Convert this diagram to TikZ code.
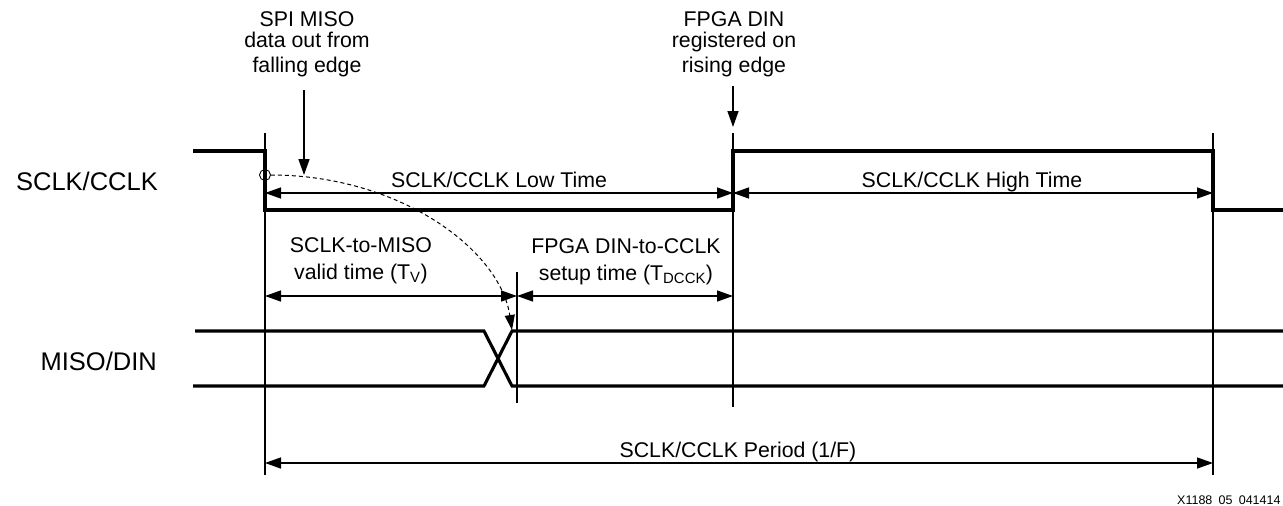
\documentclass[tikz,border=0pt]{standalone}
\usepackage{fontspec}
\setmainfont{Liberation Sans}
\usetikzlibrary{arrows.meta}
\begin{document}
\begin{tikzpicture}[x=1pt,y=-1pt,
  sig/.style={line width=3.1pt, line join=miter},
  guide/.style={line width=1.3pt},
  tipA/.tip={Triangle[length=16pt,width=11pt]},
  dimline/.style={line width=1.4pt, tipA-tipA},
  ptr/.style={line width=1.4pt, -tipA},
  lbl/.style={font=\fontsize{21.3}{25}\selectfont, inner sep=0pt, anchor=base},
  siglbl/.style={font=\fontsize{25.5}{30}\selectfont, inner sep=0pt, anchor=base east},
  small/.style={font=\fontsize{12.5}{15}\selectfont, inner sep=0pt, anchor=base west}]
\useasboundingbox (0,0) rectangle (1283,506);

% guide lines
\coordinate (fallTop) at (265,133); \coordinate (fallBot) at (265,475);
\coordinate (riseTop) at (733,133); \coordinate (riseBot) at (733,407);
\coordinate (endTop) at (1213,133); \coordinate (endBot) at (1213,475);
\coordinate (dTop) at (517,272); \coordinate (dBot) at (517,403);
\draw[guide] (fallTop) -- (fallBot);
\draw[guide] (riseTop) -- (riseBot);
\draw[guide] (endTop) -- (endBot);
\draw[guide] (dTop) -- (dBot);

% signals
\draw[sig] (193,151) -- (265,151) -- (265,210) -- (733,210) -- (733,151) -- (1213,151) -- (1213,210) -- (1290,210);
\draw[sig] (195,331) -- (484,331) -- (512,386) -- (1290,386);
\draw[sig] (193,386) -- (484,386) -- (512,331) -- (1290,331);

% signal labels
\node[siglbl] (sclk) at (158,190) {SCLK/CCLK};
\node[siglbl] (miso) at (157,370) {MISO/DIN};

% dimension arrows
\coordinate (lowL) at (265,193); \coordinate (lowR) at (733,193); \coordinate (highR) at (1213,193);
\coordinate (tvL) at (265,296); \coordinate (tvR) at (517,296); \coordinate (tdR) at (733,296);
\coordinate (perL) at (265,463); \coordinate (perR) at (1213,463);
\draw[dimline] (lowL) -- (lowR);
\draw[dimline] (lowR) -- (highR);
\draw[dimline] (tvL) -- (tvR);
\draw[dimline] (tvR) -- (tdR);
\draw[dimline] (perL) -- (perR);

\node[lbl] (lowlbl) at (499,187) {SCLK/CCLK Low Time};
\node[lbl] (highlbl) at (972,187) {SCLK/CCLK High Time};
\node[lbl] (perlbl) at (738,457) {SCLK/CCLK Period (1/F)};
\node[lbl] (tv1) at (361,252) {SCLK-to-MISO};
\node[lbl] (tv2) at (361,279) {valid time (T\textsubscript{V})};
\node[lbl] (td1) at (626,253) {FPGA DIN-to-CCLK};
\node[lbl] (td2) at (626,280) {setup time (T\textsubscript{DCCK})};

% top annotations
\node[lbl] (spi1) at (307,27) {SPI MISO};
\node[lbl] (spi2) at (307,47) {data out from};
\node[lbl] (spi3) at (307,72) {falling edge};
\node[lbl] (fp1) at (734,27) {FPGA DIN};
\node[lbl] (fp2) at (734,47) {registered on};
\node[lbl] (fp3) at (734,72) {rising edge};

\coordinate (spiFrom) at (304,90); \coordinate (spiTo) at (304,175);
\coordinate (fpFrom) at (733,86); \coordinate (fpTo) at (733,127);
\draw[ptr] (spiFrom) -- (spiTo);
\draw[ptr] (fpFrom) -- (fpTo);

% dashed launch curve
\node[circle, draw, line width=0.9pt, minimum size=11pt, inner sep=0pt] (circ) at (265,175) {};
\coordinate (misoTip) at (512,330);
\draw[line width=1pt, dash pattern=on 4pt off 3pt, -{Triangle[length=15pt,width=10pt]}]
  (circ.east) .. controls (400,175) and (500,250) .. (misoTip);

\node[small] (figid) at (1177,504) {X1188\enspace05\enspace041414};
\end{tikzpicture}
\end{document}
